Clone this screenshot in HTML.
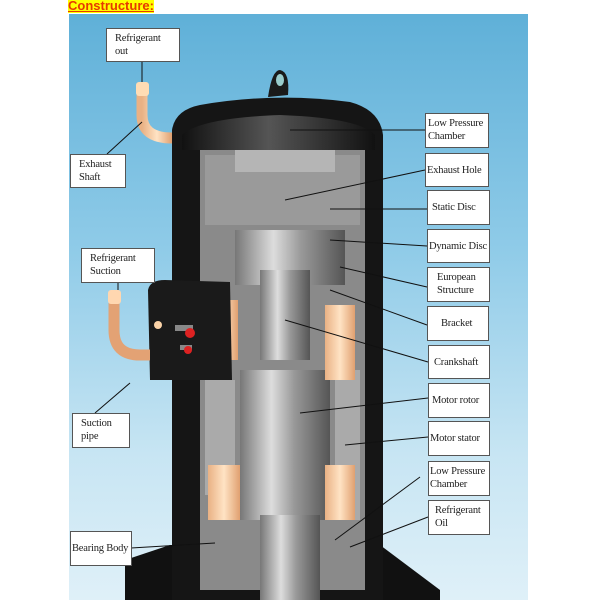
<!DOCTYPE html>
<html><head><meta charset="utf-8"><style>
body{margin:0;width:600px;height:600px;background:#fff;position:relative;overflow:hidden;font-family:"Liberation Serif",serif}
.t{position:absolute;left:68px;top:-2px;font:bold 13px "Liberation Sans",sans-serif;color:#e63a00;background:#ffff00;text-decoration:underline;line-height:15px}
.bg{position:absolute;left:69px;top:14px;width:459px;height:586px;background:linear-gradient(180deg,#5fb0d8 0%,#8fcbe8 40%,#c7e5f3 75%,#dff0f8 100%)}
.b{position:absolute;background:#fff;border:1px solid #555;font-size:10.5px;line-height:13px;color:#222;box-sizing:border-box;padding:3px 4px;white-space:nowrap;letter-spacing:-0.2px}
svg{position:absolute;left:0;top:0}
</style></head><body>
<div class="t">Constructure:</div>
<div class="bg"></div>
<svg width="600" height="600">
<defs>
<linearGradient id="g" x1="0" x2="1"><stop offset="0" stop-color="#777"/><stop offset=".35" stop-color="#ddd"/><stop offset=".6" stop-color="#999"/><stop offset="1" stop-color="#555"/></linearGradient>
<linearGradient id="c" x1="0" x2="1"><stop offset="0" stop-color="#e9b184"/><stop offset=".5" stop-color="#ffe3c4"/><stop offset="1" stop-color="#e0a070"/></linearGradient>
<linearGradient id="d" x1="0" x2="1"><stop offset="0" stop-color="#111"/><stop offset=".45" stop-color="#555"/><stop offset="1" stop-color="#111"/></linearGradient>
</defs>
<path d="M125 560 L170 545 L380 545 L440 590 L440 600 L125 600 Z" fill="#111"/>
<path d="M172 130 Q175 110 200 105 Q275 92 350 102 Q380 110 383 135 L383 600 L172 600 Z" fill="#151515"/>
<path d="M268 97 Q272 70 280 70 Q290 72 288 95 Z" fill="#1a1a1a"/>
<ellipse cx="280" cy="80" rx="4" ry="6" fill="#9cc"/>
<path d="M182 135 Q200 118 280 115 Q360 118 375 135 L375 150 L182 150 Z" fill="url(#d)"/>
<path d="M200 150 L365 150 L365 590 L200 590 Z" fill="#8a8a8a"/>
<path d="M205 155 L360 155 L360 225 L205 225 Z" fill="#9a9a9a"/>
<rect x="235" y="150" width="100" height="22" fill="#b5b5b5"/>
<rect x="235" y="230" width="110" height="55" fill="url(#g)"/>
<rect x="260" y="270" width="50" height="90" fill="url(#g)"/>
<rect x="205" y="380" width="30" height="115" fill="#aaa"/>
<rect x="240" y="370" width="90" height="150" fill="url(#g)"/>
<rect x="335" y="370" width="25" height="150" fill="#aaa"/>
<rect x="260" y="515" width="60" height="85" fill="url(#g)"/>
<rect x="325" y="305" width="30" height="75" fill="url(#c)"/>
<rect x="208" y="300" width="30" height="60" fill="url(#c)"/>
<rect x="208" y="465" width="32" height="55" fill="url(#c)"/>
<rect x="325" y="465" width="30" height="55" fill="url(#c)"/>
<path d="M148 290 Q150 280 165 280 L230 282 L232 380 L150 380 Z" fill="#1a1a1a"/>
<rect x="175" y="325" width="18" height="6" fill="#888"/><circle cx="190" cy="333" r="5" fill="#d22"/>
<rect x="180" y="345" width="12" height="5" fill="#888"/><circle cx="188" cy="350" r="4" fill="#d22"/>
<circle cx="158" cy="325" r="4" fill="#fbd3a8"/>
<path d="M142 95 L142 115 Q142 138 172 138" stroke="url(#c)" stroke-width="11" fill="none"/>
<rect x="136" y="82" width="13" height="14" rx="3" fill="#ffdcb4"/>
<path d="M114 303 L114 330 Q114 355 140 355 L150 355" stroke="#e3a274" stroke-width="11" fill="none"/>
<rect x="108" y="290" width="13" height="14" rx="3" fill="#ffd7b0"/>
<g stroke="#111" stroke-width="1" fill="none">
<line x1="142" y1="62" x2="142" y2="82"/>
<line x1="107" y1="154" x2="142" y2="122"/>
<line x1="118" y1="282" x2="118" y2="290"/>
<line x1="95" y1="413" x2="130" y2="383"/>
<line x1="131" y1="548" x2="215" y2="543"/>
<line x1="290" y1="130" x2="425" y2="130"/>
<line x1="285" y1="200" x2="425" y2="170"/>
<line x1="330" y1="209" x2="427" y2="209"/>
<line x1="330" y1="240" x2="427" y2="246"/>
<line x1="340" y1="267" x2="427" y2="287"/>
<line x1="330" y1="290" x2="427" y2="325"/>
<line x1="285" y1="320" x2="428" y2="362"/>
<line x1="300" y1="413" x2="428" y2="398"/>
<line x1="345" y1="445" x2="428" y2="437"/>
<line x1="335" y1="540" x2="420" y2="477"/>
<line x1="350" y1="547" x2="428" y2="517"/>
</g>
</svg>
<div class="b" style="left:106px;top:28px;width:74px;height:34px;padding:3px 8px">Refrigerant<br>out</div>
<div class="b" style="left:70px;top:154px;width:56px;height:34px;padding:3px 8px">Exhaust<br>Shaft</div>
<div class="b" style="left:81px;top:248px;width:74px;height:35px;padding:3px 8px">Refrigerant<br>Suction</div>
<div class="b" style="left:72px;top:413px;width:58px;height:35px;padding:3px 8px">Suction<br>pipe</div>
<div class="b" style="left:70px;top:531px;width:62px;height:35px;padding:10px 1px">Bearing Body</div>
<div class="b" style="left:425px;top:113px;width:64px;height:35px;padding:3px 2px">Low Pressure<br>Chamber</div>
<div class="b" style="left:425px;top:153px;width:64px;height:34px;padding:10px 1px">Exhaust Hole</div>
<div class="b" style="left:427px;top:190px;width:63px;height:35px;padding:10px 4px">Static Disc</div>
<div class="b" style="left:427px;top:229px;width:63px;height:34px;padding:10px 1px">Dynamic Disc</div>
<div class="b" style="left:427px;top:267px;width:63px;height:35px;padding:3px 9px">European<br>Structure</div>
<div class="b" style="left:427px;top:306px;width:62px;height:35px;padding:10px 13px">Bracket</div>
<div class="b" style="left:428px;top:345px;width:62px;height:34px;padding:10px 5px">Crankshaft</div>
<div class="b" style="left:428px;top:383px;width:62px;height:35px;padding:10px 3px">Motor rotor</div>
<div class="b" style="left:428px;top:421px;width:62px;height:35px;padding:10px 1px">Motor stator</div>
<div class="b" style="left:428px;top:461px;width:62px;height:35px;padding:3px 1px">Low Pressure<br>Chamber</div>
<div class="b" style="left:428px;top:500px;width:62px;height:35px;padding:3px 6px">Refrigerant<br>Oil</div>
</body></html>
